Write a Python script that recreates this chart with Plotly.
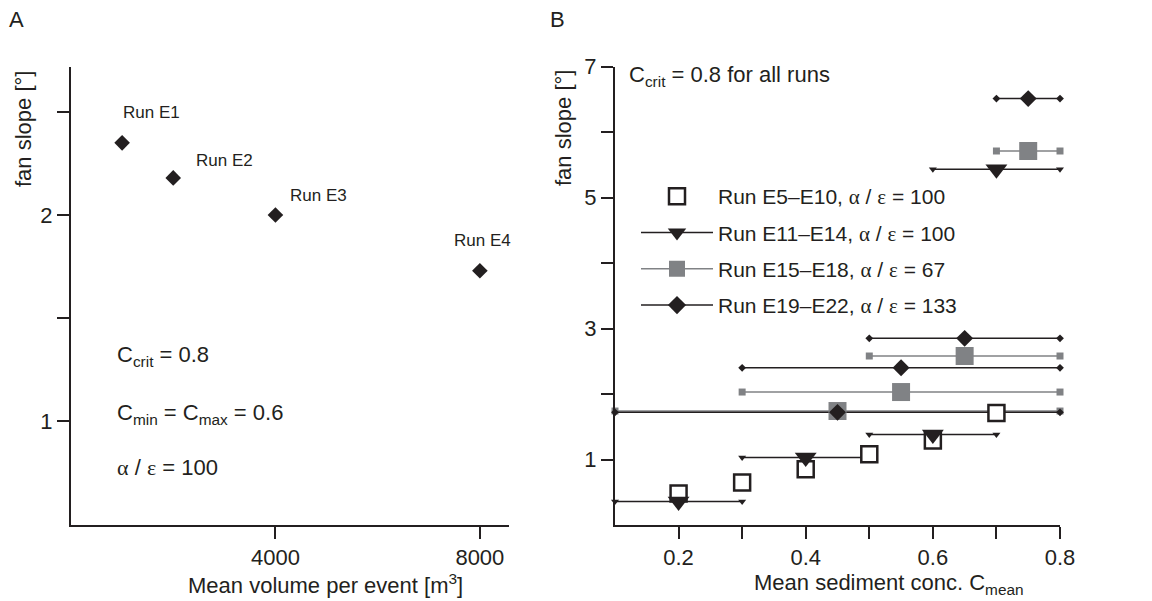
import plotly.graph_objects as go

# ---------------- data ----------------
# Panel A
vol = [1000, 2000, 4000, 8000]
slope_a = [2.35, 2.18, 2.0, 1.73]
run_a = ["Run E1", "Run E2", "Run E3", "Run E4"]
lab_dx = [29, 51, 43, 3]
lab_dy = [30, 17, 20, 30]

# Panel B
e5_x = [0.2, 0.3, 0.4, 0.5, 0.6, 0.7]
e5_y = [0.48, 0.65, 0.85, 1.08, 1.29, 1.71]

e11_x = [0.2, 0.4, 0.6, 0.7]
e11_y = [0.36, 1.03, 1.38, 5.43]
e11_lo = [0.1, 0.3, 0.5, 0.6]
e11_hi = [0.3, 0.5, 0.7, 0.8]

e15_x = [0.45, 0.55, 0.65, 0.75]
e15_y = [1.74, 2.03, 2.58, 5.71]
e15_lo = [0.1, 0.3, 0.5, 0.7]
e15_hi = [0.8, 0.8, 0.8, 0.8]

e19_x = [0.45, 0.55, 0.65, 0.75]
e19_y = [1.72, 2.40, 2.85, 6.51]
e19_lo = [0.1, 0.3, 0.5, 0.7]
e19_hi = [0.8, 0.8, 0.8, 0.8]

GREEK = '<span style="font-family:Liberation Serif, Times New Roman, serif">%s</span>'
AE = GREEK % "\u03b1" + " / " + GREEK % "\u03b5"
labels_b = ["Run E5\u2013E10, " + AE + " = 100",
            "Run E11\u2013E14, " + AE + " = 100",
            "Run E15\u2013E18, " + AE + " = 67",
            "Run E19\u2013E22, " + AE + " = 133"]

ya_ticks = [1, 2]
ya_minor = [1.5, 2.5]
xa_ticks = [4000, 8000]
yb_ticks = [1, 3, 5, 7]
yb_minor = [2, 4, 6]
xb_ticks = [0.2, 0.4, 0.6, 0.8]
xb_labels = ["0.2", "0.4", "0.6", "0.8"]
xb_minor = [0.3, 0.5, 0.7]

# ---------------- style ----------------
W, H = 1152, 601
INK = "#231f20"
GRAY = "#808285"
FONT = "Liberation Sans, Arial, Helvetica, sans-serif"


def px(x):
    return x / W


def py(y):
    return 1 - y / H


def segs(lo, hi, y):
    xs, ys = [], []
    for a, b, v in zip(lo, hi, y):
        xs += [a, b, None]
        ys += [v, v, None]
    return xs, ys


fig = go.Figure()

# Panel A points
fig.add_trace(go.Scatter(x=vol, y=slope_a, mode="markers", xaxis="x", yaxis="y",
                         marker=dict(symbol="diamond", size=12, color=INK),
                         showlegend=False, cliponaxis=False))

# Panel B range lines
for lo, hi, yv, col, sym, ms in [
    (e11_lo, e11_hi, e11_y, INK, "triangle-down", 7),
    (e15_lo, e15_hi, e15_y, GRAY, "square", 7),
    (e19_lo, e19_hi, e19_y, INK, "diamond", 6),
]:
    xs, ys = segs(lo, hi, yv)
    fig.add_trace(go.Scatter(x=xs, y=ys, mode="lines+markers", xaxis="x2", yaxis="y2",
                             line=dict(color=col, width=1.5),
                             marker=dict(symbol=sym, size=ms, color=col),
                             showlegend=False, cliponaxis=False, hoverinfo="skip"))

# Panel B main markers
fig.add_trace(go.Scatter(x=e5_x, y=e5_y, mode="markers", xaxis="x2", yaxis="y2",
                         marker=dict(symbol="square", size=16, color="white",
                                     line=dict(color=INK, width=2.5)),
                         showlegend=False, cliponaxis=False))
fig.add_trace(go.Scatter(x=e11_x, y=e11_y, mode="markers", xaxis="x2", yaxis="y2",
                         marker=dict(symbol="triangle-down", size=19, color=INK),
                         showlegend=False, cliponaxis=False))
fig.add_trace(go.Scatter(x=e15_x, y=e15_y, mode="markers", xaxis="x2", yaxis="y2",
                         marker=dict(symbol="square", size=18, color=GRAY),
                         showlegend=False, cliponaxis=False))
fig.add_trace(go.Scatter(x=e19_x, y=e19_y, mode="markers", xaxis="x2", yaxis="y2",
                         marker=dict(symbol="diamond", size=13, color=INK),
                         showlegend=False, cliponaxis=False))

# Legend entries
leg_specs = [
    ("markers", dict(symbol="square", size=16, color="white", line=dict(color=INK, width=2.5)), INK),
    ("lines+markers", dict(symbol="triangle-down", size=16, color=INK), INK),
    ("lines+markers", dict(symbol="square", size=16, color=GRAY), GRAY),
    ("lines+markers", dict(symbol="diamond", size=14, color=INK), INK),
]
for i, (lab, (mode, mk, lc)) in enumerate(zip(labels_b, leg_specs)):
    fig.add_trace(go.Scatter(x=[None], y=[None], mode=mode, xaxis="x2", yaxis="y2",
                             name=lab, marker=mk, line=dict(color=lc, width=1.5),
                             legendgroup="g%d" % i, showlegend=True))

axis_common = dict(showline=True, linecolor=INK, linewidth=2, ticks="outside",
                   ticklen=12, tickwidth=2, tickcolor=INK, showgrid=False,
                   zeroline=False, automargin=False,
                   tickfont=dict(family=FONT, size=22, color=INK))


def minor(vals):
    return dict(tickmode="array", tickvals=vals, ticks="outside", ticklen=12,
                tickwidth=2, tickcolor=INK, showgrid=False)


fig.update_layout(
    width=W, height=H,
    margin=dict(l=0, r=0, t=0, b=0),
    paper_bgcolor="white", plot_bgcolor="white",
    font=dict(family=FONT, color=INK),
    xaxis=dict(domain=[px(71), px(509)], range=[0, 8570], tickvals=xa_ticks,
               anchor="y", **axis_common),
    yaxis=dict(domain=[py(524.5), py(66.5)], range=[0.5, 2.72], tickvals=ya_ticks,
               minor=minor(ya_minor), anchor="x", **axis_common),
    xaxis2=dict(domain=[px(615), px(1060)], range=[0.1, 0.8], tickvals=xb_ticks,
                ticktext=xb_labels,
                minor=minor(xb_minor), anchor="y2", **axis_common),
    yaxis2=dict(domain=[py(525), py(66.5)], range=[0, 7], tickvals=yb_ticks,
                minor=minor(yb_minor), anchor="x2", **axis_common),
    legend=dict(x=px(636), y=py(176), xanchor="left", yanchor="top",
                font=dict(family=FONT, size=21, color=INK), bgcolor="rgba(0,0,0,0)",
                tracegroupgap=6, traceorder="grouped", itemsizing="trace",
                itemwidth=72),
    showlegend=True,
)

ann = []
# point labels
for xv, yv, t, dx, dy in zip(vol, slope_a, run_a, lab_dx, lab_dy):
    ann.append(dict(x=xv, y=yv, xref="x", yref="y", text=t, showarrow=False,
                    xshift=dx, yshift=dy, font=dict(size=17, family=FONT, color=INK)))

big = dict(family=FONT, size=22, color=INK)
ann += [
    dict(x=px(16), y=py(20), xref="paper", yref="paper", text="A", showarrow=False,
         xanchor="center", yanchor="middle", font=big),
    dict(x=px(557), y=py(20), xref="paper", yref="paper", text="B", showarrow=False,
         xanchor="center", yanchor="middle", font=big),
    dict(x=px(23), y=py(129), xref="paper", yref="paper", text="fan slope [\u00b0]",
         textangle=-90, showarrow=False, xanchor="center", yanchor="middle", font=big),
    dict(x=px(563), y=py(128), xref="paper", yref="paper", text="fan slope [\u00b0]",
         textangle=-90, showarrow=False, xanchor="center", yanchor="middle", font=big),
    dict(x=px(325), y=py(584), xref="paper", yref="paper",
         text="Mean volume per event [m<sup>3</sup>]", showarrow=False,
         xanchor="center", yanchor="middle", font=big),
    dict(x=px(889), y=py(584), xref="paper", yref="paper",
         text="Mean sediment conc. C<sub>mean</sub>", showarrow=False,
         xanchor="center", yanchor="middle", font=big),
    dict(x=px(115), y=py(356), xref="paper", yref="paper",
         text="C<sub>crit</sub> = 0.8", showarrow=False,
         xanchor="left", yanchor="middle", font=big),
    dict(x=px(115), y=py(414), xref="paper", yref="paper",
         text="C<sub>min</sub> = C<sub>max</sub> = 0.6", showarrow=False,
         xanchor="left", yanchor="middle", font=big),
    dict(x=px(115), y=py(467), xref="paper", yref="paper",
         text=AE + " = 100", showarrow=False,
         xanchor="left", yanchor="middle", font=big),
    dict(x=px(627), y=py(76), xref="paper", yref="paper",
         text="C<sub>crit</sub> = 0.8 for all runs", showarrow=False,
         xanchor="left", yanchor="middle", font=big),
]
fig.update_layout(annotations=ann)

fig.write_html("out.html")
